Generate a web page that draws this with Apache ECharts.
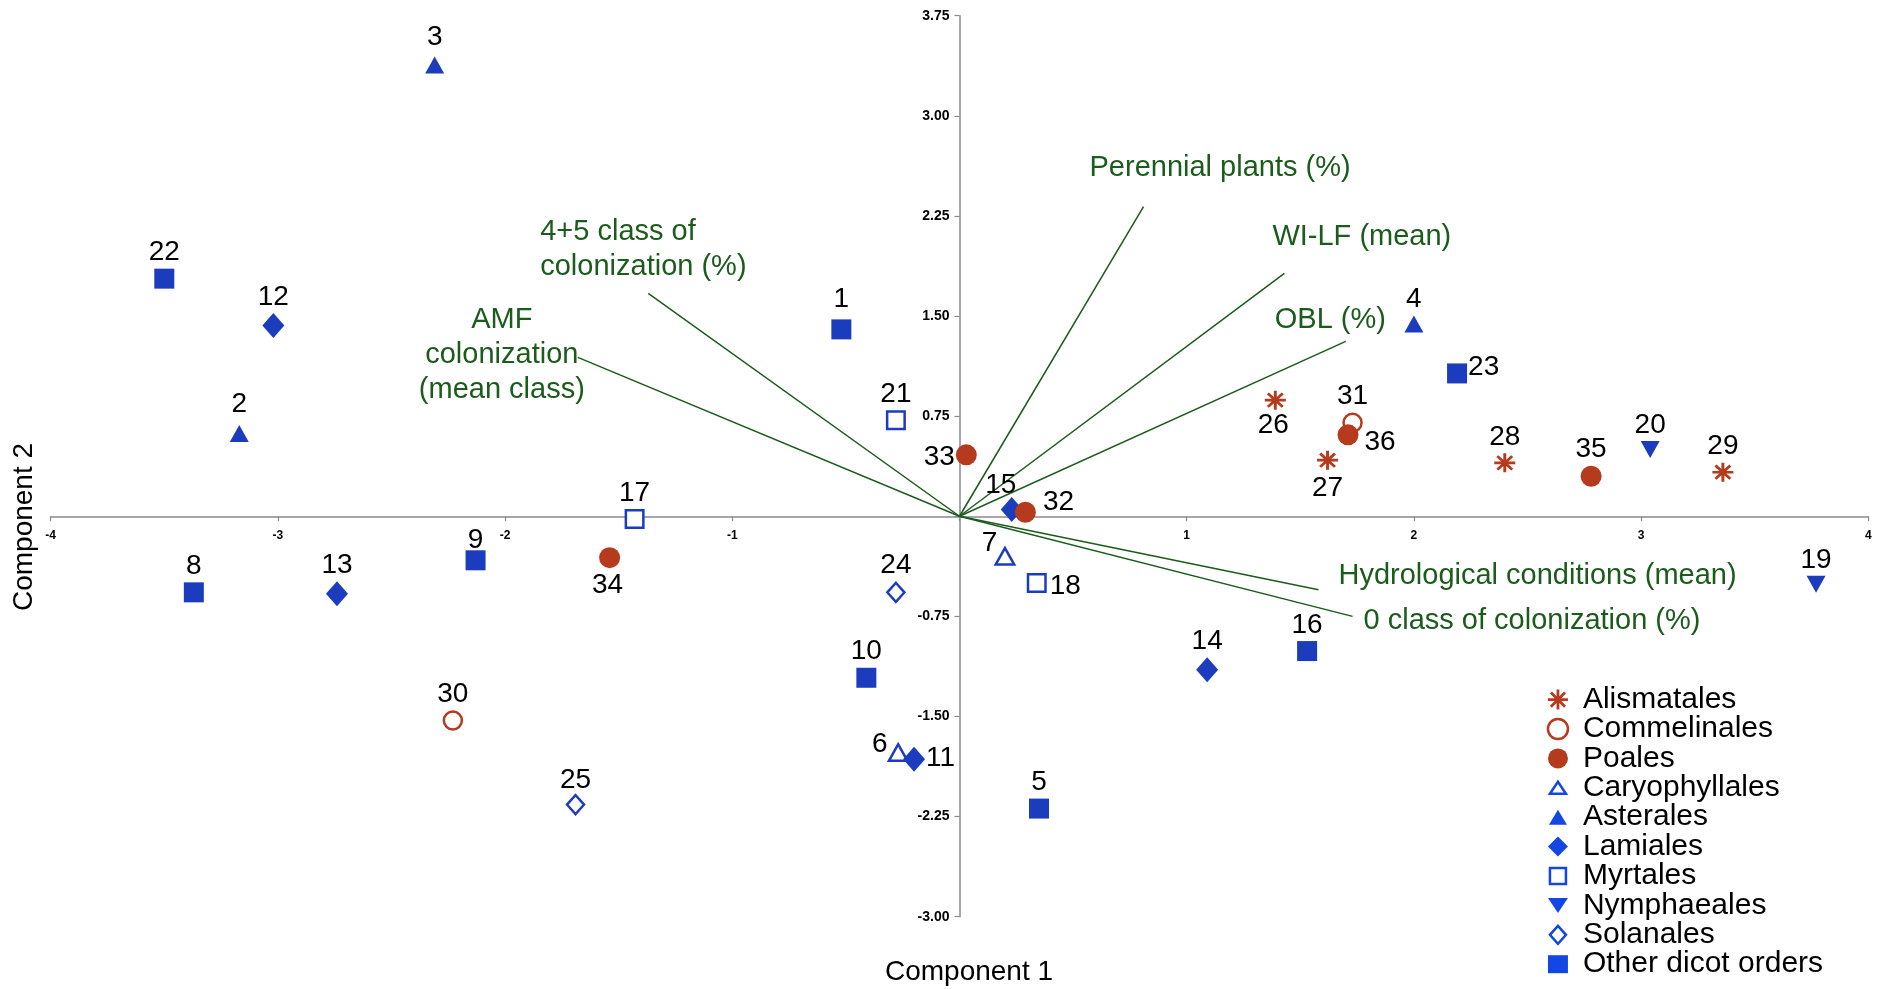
<!DOCTYPE html>
<html>
<head>
<meta charset="utf-8">
<title>PCA biplot – Component 1 × Component 2</title>
<script src="https://cdn.jsdelivr.net/npm/echarts@6/dist/echarts.min.js"></script>
<style>
  html, body { margin: 0; padding: 0; background: #ffffff; }
  #chart { width: 1879px; height: 989px; }
</style>
</head>
<body>
<div id="chart"></div>
<script>
// ---- Data -----------------------------------------------------------------

// Plant orders (legend order)
const orders = ['Alismatales', 'Commelinales', 'Poales', 'Caryophyllales', 'Asterales',
                'Lamiales', 'Myrtales', 'Nymphaeales', 'Solanales', 'Other dicot orders'];

// Sample numbers and their scores on the first two components
const sampleIds = [1, 2, 3, 4, 5, 6, 7, 8, 9, 10, 11, 12, 13, 14, 15, 16, 17, 18,
                   19, 20, 21, 22, 23, 24, 25, 26, 27, 28, 29, 30, 31, 32, 33, 34, 35, 36];
const component1 = [-0.52, -3.17, -2.31, 2.00, 0.35, -0.27, 0.20, -3.37, -2.13, -0.41, -0.20, -3.02,
                    -2.74, 1.09, 0.23, 1.53, -1.43, 0.34, 3.77, 3.04, -0.28, -3.50, 2.19, -0.28,
                    -1.69, 1.39, 1.62, 2.40, 3.36, -2.23, 1.73, 0.29, 0.03, -1.54, 2.78, 1.71];
const component2 = [1.40, 0.62, 3.38, 1.44, -2.19, -1.77, -0.30, -0.57, -0.33, -1.21, -1.82, 1.43,
                    -0.58, -1.15, 0.05, -1.01, -0.02, -0.50, -0.51, 0.50, 0.72, 1.78, 1.07, -0.57,
                    -2.16, 0.87, 0.42, 0.40, 0.33, -1.53, 0.70, 0.03, 0.46, -0.31, 0.30, 0.61];
const sampleOrder = ['Other dicot orders', 'Asterales', 'Asterales', 'Asterales', 'Other dicot orders',
                     'Caryophyllales', 'Caryophyllales', 'Other dicot orders', 'Other dicot orders',
                     'Other dicot orders', 'Lamiales', 'Lamiales', 'Lamiales', 'Lamiales', 'Lamiales',
                     'Other dicot orders', 'Myrtales', 'Myrtales', 'Nymphaeales', 'Nymphaeales', 'Myrtales',
                     'Other dicot orders', 'Other dicot orders', 'Solanales', 'Solanales', 'Alismatales',
                     'Alismatales', 'Alismatales', 'Alismatales', 'Commelinales', 'Commelinales',
                     'Poales', 'Poales', 'Poales', 'Poales', 'Poales'];

// Variable loadings (vector tips)
const vectorNames = ['Perennial plants (%)', 'WI-LF (mean)', 'OBL (%)',
                     '4+5 class of\ncolonization (%)', 'AMF\ncolonization\n(mean class)',
                     'Hydrological conditions (mean)', '0 class of colonization (%)'];
const vectorX = [0.81, 1.43, 1.70, -1.37, -1.68, 1.58, 1.73];
const vectorY = [2.32, 1.82, 1.31, 1.67, 1.19, -0.55, -0.75];

// Axis ranges and titles
const xRange = [-4, 4];
const yRange = [-3, 3.75];
const xStep = 1;
const yStep = 0.75;
const xAxisTitle = 'Component 1';
const yAxisTitle = 'Component 2';

// ---- Styles -----------------------------------------------------------------

const FONT = '"Liberation Sans", Arial, Helvetica, sans-serif';
const BLUE = '#1b3cbd';
const RED = '#b63a1d';
const GREEN = '#1b5b1b';
const LEGEND_BLUE = '#1446e6';
const AXIS_GREY = '#8a8a8a';

const W = 1879, H = 989;
const GRID = { left: 50.7, right: 10.7, top: 15.7, bottom: 72.3 };
const gridW = W - GRID.left - GRID.right;
const gridH = H - GRID.top - GRID.bottom;
// both axes cross at the origin
const xAxisShift = -gridH * (0 - yRange[0]) / (yRange[1] - yRange[0]);
const yAxisShift = -gridW * (0 - xRange[0]) / (xRange[1] - xRange[0]);

// eight-armed asterisk marker
const ASTERISK = 'path://M43,0L57,0L57,100L43,100Z M0,43L100,43L100,57L0,57Z ' +
                 'M19.59,9.69L90.31,80.41L80.41,90.31L9.69,19.59Z M9.69,80.41L80.41,9.69L90.31,19.59L19.59,90.31Z';
const DOWN_TRIANGLE = 'path://M0,0L20,0L10,18Z';

const hollow = c => ({ color: '#ffffff', borderColor: c, borderWidth: 2.5, opacity: 1 });
const solid = c => ({ color: c, opacity: 1 });

const orderMarker = {
  'Alismatales':        { symbol: ASTERISK, symbolSize: [21, 19], itemStyle: solid(RED) },
  'Commelinales':       { symbol: 'circle', symbolSize: 18, itemStyle: hollow(RED) },
  'Poales':             { symbol: 'circle', symbolSize: 21, itemStyle: solid(RED), z: 4 },
  'Caryophyllales':     { symbol: 'triangle', symbolSize: [18.5, 16.5], itemStyle: hollow(BLUE) },
  'Asterales':          { symbol: 'triangle', symbolSize: [19, 17], itemStyle: solid(BLUE) },
  'Lamiales':           { symbol: 'diamond', symbolSize: [22, 25], itemStyle: solid(BLUE) },
  'Myrtales':           { symbol: 'rect', symbolSize: 17.5, itemStyle: hollow(BLUE) },
  'Nymphaeales':        { symbol: DOWN_TRIANGLE, symbolSize: [19, 17], itemStyle: solid(BLUE) },
  'Solanales':          { symbol: 'diamond', symbolSize: [17, 19], itemStyle: hollow(BLUE) },
  'Other dicot orders': { symbol: 'rect', symbolSize: 20, itemStyle: solid(BLUE) }
};

// legend icons (padded paths keep some shapes flatter than the box)
const legendIcon = {
  'Alismatales':        { icon: ASTERISK, itemStyle: { color: RED, borderWidth: 0 } },
  'Commelinales':       { icon: 'circle', itemStyle: { color: '#ffffff', borderColor: RED, borderWidth: 2.5 } },
  'Poales':             { icon: 'circle', itemStyle: { color: RED, borderWidth: 0 } },
  'Caryophyllales':     { icon: 'path://M0,0M20,20M2,16L10,4L18,16Z',
                          itemStyle: { color: '#ffffff', borderColor: LEGEND_BLUE, borderWidth: 2.5 } },
  'Asterales':          { icon: 'path://M0,0M20,20M1,17.5L10,2.5L19,17.5Z', itemStyle: { color: LEGEND_BLUE, borderWidth: 0 } },
  'Lamiales':           { icon: 'diamond', itemStyle: { color: LEGEND_BLUE, borderWidth: 0 } },
  'Myrtales':           { icon: 'path://M0,0M20,20M2,2L18,2L18,18L2,18Z',
                          itemStyle: { color: '#ffffff', borderColor: LEGEND_BLUE, borderWidth: 2.5 } },
  'Nymphaeales':        { icon: 'path://M0,0M20,20M0,2.5L20,2.5L10,17.5Z', itemStyle: { color: LEGEND_BLUE, borderWidth: 0 } },
  'Solanales':          { icon: 'path://M0,0M20,20M10,1L18,10L10,19L2,10Z',
                          itemStyle: { color: '#ffffff', borderColor: LEGEND_BLUE, borderWidth: 2.5 } },
  'Other dicot orders': { icon: 'path://M0,0M20,20M0,1L20,1L20,19L0,19Z', itemStyle: { color: LEGEND_BLUE, borderWidth: 0 } }
};

// where each sample number sits around its marker (default: above)
const labelSide = { 6: 'left', 7: 'left', 33: 'left', 11: 'right', 18: 'right', 23: 'right',
                    32: 'right', 36: 'right', 26: 'bottom', 27: 'bottom', 34: 'bottom' };
const labelNudge = { 1: [0, -4], 2: [0, -5], 3: [0, -3], 9: [0, 6], 25: [0, 3],
                     6: [2, -8], 7: [5, -13], 11: [-2, -1], 15: [-11, 4], 18: [0, 3], 23: [-2, -6],
                     32: [4, -10], 33: [1, 2], 36: [3, 7], 26: [-2, -1], 27: [0, 2], 34: [-2, 0] };
const sideDistance = { top: 2, bottom: 3, left: 2, right: 3 };

// text placement of each variable name relative to its vector tip
const vectorLabelPlacement = [
  { align: 'left',   offset: [-54, -39] },
  { align: 'left',   offset: [-12, -36] },
  { align: 'left',   offset: [-71, -21] },
  { align: 'left',   offset: [-108, -44] },
  { align: 'center', offset: [-76, -2] },
  { align: 'left',   offset: [20, -14] },
  { align: 'left',   offset: [11, 5] }
];

// ---- Series -------------------------------------------------------------------

const pointSeries = orders.map(order => {
  const data = [];
  sampleIds.forEach((id, i) => {
    if (sampleOrder[i] !== order) return;
    const side = labelSide[id] || 'top';
    data.push({
      name: String(id),
      value: [component1[i], component2[i]],
      label: { position: side, distance: sideDistance[side], offset: labelNudge[id] || [0, 0] }
    });
  });
  const m = orderMarker[order];
  return {
    name: order,
    type: 'scatter',
    z: m.z || 3,
    symbol: m.symbol,
    symbolSize: m.symbolSize,
    itemStyle: m.itemStyle,
    label: {
      show: true,
      formatter: '{b}',
      color: '#000000',
      opacity: 1,
      fontFamily: FONT,
      fontSize: 28
    },
    emphasis: { disabled: true },
    data
  };
});

const vectorSeries = {
  name: 'loadings',
  type: 'lines',
  coordinateSystem: 'cartesian2d',
  z: 1,
  silent: true,
  lineStyle: { color: GREEN, width: 1.5, opacity: 1, curveness: 0 },
  data: vectorX.map((x, i) => ({ coords: [[0, 0], [x, vectorY[i]]] }))
};

const vectorLabelSeries = {
  name: 'loading labels',
  type: 'scatter',
  z: 2,
  silent: true,
  symbol: 'circle',
  symbolSize: 1,
  itemStyle: { color: 'rgba(0,0,0,0)', opacity: 1 },
  label: {
    show: true,
    position: 'inside',
    verticalAlign: 'middle',
    formatter: '{b}',
    color: GREEN,
    opacity: 1,
    fontFamily: FONT,
    fontSize: 29,
    lineHeight: 35,
    textBorderWidth: 0
  },
  emphasis: { disabled: true },
  data: vectorNames.map((n, i) => ({
    name: n,
    value: [vectorX[i], vectorY[i]],
    label: { align: vectorLabelPlacement[i].align, offset: vectorLabelPlacement[i].offset }
  }))
};

// ---- Chart --------------------------------------------------------------------

const chart = echarts.init(document.getElementById('chart'), null, { renderer: 'canvas' });

chart.setOption({
  animation: false,
  backgroundColor: '#ffffff',
  textStyle: { fontFamily: FONT },
  grid: { left: GRID.left, right: GRID.right, top: GRID.top, bottom: GRID.bottom, containLabel: false },
  xAxis: {
    type: 'value',
    position: 'bottom',
    offset: xAxisShift,
    min: xRange[0], max: xRange[1], interval: xStep,
    axisLine: { onZero: false, lineStyle: { color: AXIS_GREY, width: 1.5 } },
    axisTick: { show: true, length: 5, lineStyle: { color: AXIS_GREY, width: 1.2 } },
    axisLabel: {
      formatter: v => (v === 0 ? '' : String(v)),
      color: '#000000', fontWeight: 'bold', fontSize: 12, fontFamily: FONT, margin: 13,
      align: 'center', verticalAlign: 'top',
      alignMinLabel: 'center', alignMaxLabel: 'center',
      verticalAlignMinLabel: 'top', verticalAlignMaxLabel: 'top'
    },
    splitLine: { show: false }
  },
  yAxis: {
    type: 'value',
    position: 'left',
    offset: yAxisShift,
    min: yRange[0], max: yRange[1], interval: yStep,
    axisLine: { onZero: false, lineStyle: { color: AXIS_GREY, width: 1.5 } },
    axisTick: { show: true, length: 5, lineStyle: { color: AXIS_GREY, width: 1.2 } },
    axisLabel: {
      formatter: v => (v === 0 ? '' : v.toFixed(2)),
      color: '#000000', fontWeight: 'bold', fontSize: 14, fontFamily: FONT, margin: 10,
      align: 'right', verticalAlign: 'middle',
      alignMinLabel: 'right', alignMaxLabel: 'right',
      verticalAlignMinLabel: 'middle', verticalAlignMaxLabel: 'middle'
    },
    splitLine: { show: false }
  },
  legend: {
    orient: 'vertical',
    left: 1541.7,
    top: 679.6,
    width: 400,
    height: 400,
    itemWidth: 20,
    itemHeight: 20,
    itemGap: -0.6,
    selectedMode: false,
    textStyle: { color: '#000000', fontFamily: FONT, fontSize: 30, lineHeight: 29.33, padding: [0, 0, 0, 10] },
    data: orders.map(o => ({ name: o, icon: legendIcon[o].icon, itemStyle: legendIcon[o].itemStyle }))
  },
  graphic: [
    {
      type: 'text', x: 969, y: 972,
      style: { text: xAxisTitle, fill: '#000000', font: '28px ' + FONT, align: 'center', verticalAlign: 'middle' }
    },
    {
      type: 'text', x: 24, y: 527, rotation: Math.PI / 2,
      style: { text: yAxisTitle, fill: '#000000', font: '28px ' + FONT, align: 'center', verticalAlign: 'middle' }
    }
  ],
  series: [vectorSeries, vectorLabelSeries].concat(pointSeries)
});
</script>
</body>
</html>
